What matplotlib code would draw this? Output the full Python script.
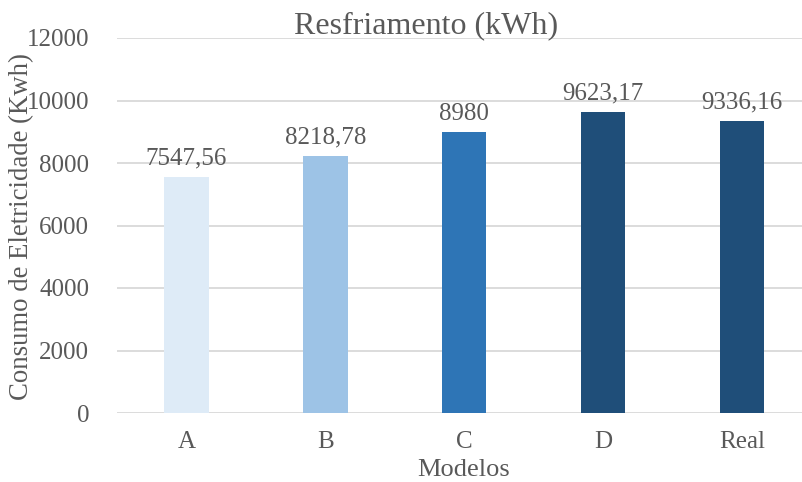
import matplotlib.pyplot as plt

modelos = ['A', 'B', 'C', 'D', 'Real']
consumo = [7547.56, 8218.78, 8980, 9623.17, 9336.16]
rotulos = ['7547,56', '8218,78', '8980', '9623,17', '9336,16']
cores = ['#DEEBF7', '#9DC3E6', '#2E75B6', '#1F4E79', '#1F4E79']

plt.rcParams['font.family'] = ['Liberation Serif', 'DejaVu Serif']
cinza = '#595959'

fig = plt.figure(figsize=(8.02, 4.82), dpi=100)
W, H = 802, 482
ax = fig.add_axes([117 / W, (H - 413) / H, (811.5 - 117) / W, (413 - 38) / H])

x = range(len(modelos))
ax.bar(x, consumo, width=0.32, color=cores, zorder=3)
for i, (v, r) in enumerate(zip(consumo, rotulos)):
    ax.text(i, v + 250, r, ha='center', va='bottom', fontsize=18, color=cinza)

ax.set_xlim(-0.5, 4.5)
ax.set_ylim(0, 12000)
ax.set_yticks(range(0, 12001, 2000))
ax.set_xticks(list(x))
ax.set_xticklabels(modelos)
ax.grid(axis='y', color='#D9D9D9', linewidth=1.3, zorder=0)
for s in ax.spines.values():
    s.set_visible(False)
ax.tick_params(length=0, labelsize=18, labelcolor=cinza)
ax.tick_params(axis='x', pad=13)
ax.tick_params(axis='y', pad=20)

fig.text(426 / W, 1 - 26 / H, 'Resfriamento (kWh)', ha='center', va='center',
         fontsize=23, color=cinza)
fig.text(464 / W, 1 - 470 / H, 'Modelos', ha='center', va='center',
         fontsize=19, color=cinza)
fig.text(22 / W, 1 - 227 / H, 'Consumo de Eletricidade (Kwh)', rotation=90,
         ha='center', va='center', fontsize=19.3, color=cinza)

fig.savefig('out.png', dpi=100)
